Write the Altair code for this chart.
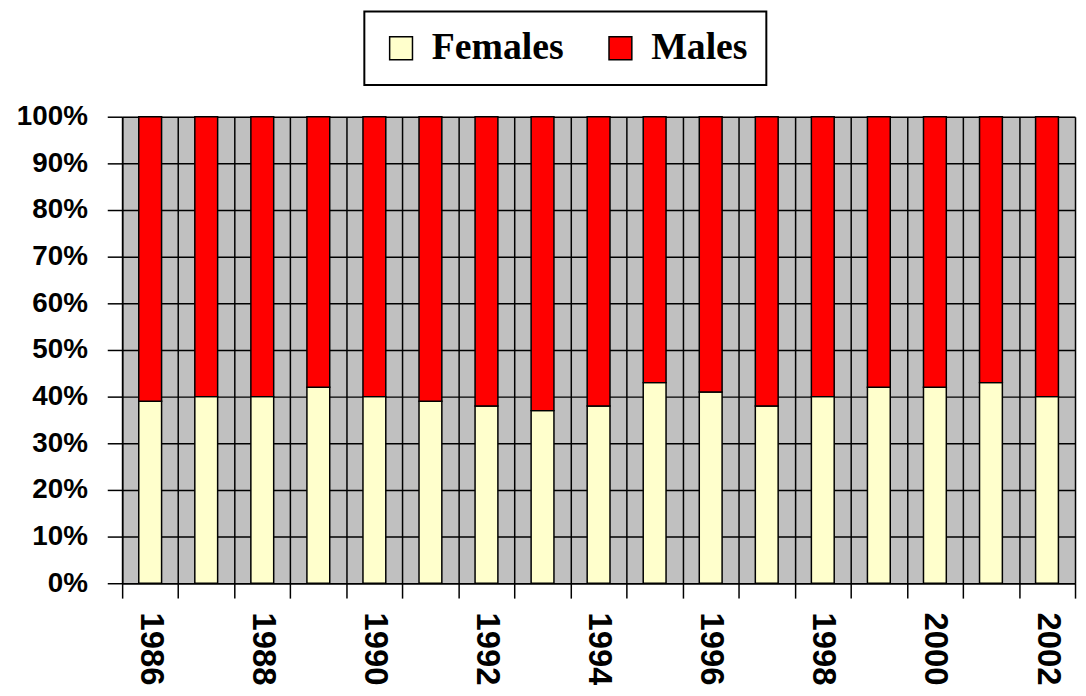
import altair as alt
import pandas as pd

years = ["1986", "1987", "1988", "1989", "1990", "1991", "1992", "1993", "1994",
         "1995", "1996", "1997", "1998", "1999", "2000", "2001", "2002"]
females = [39, 40, 40, 42, 40, 39, 38, 37, 38, 43, 41, 38, 40, 42, 42, 43, 40]
males = [61, 60, 60, 58, 60, 61, 62, 63, 62, 57, 59, 62, 60, 58, 58, 57, 60]
series = ["Females", "Males"]
colors = ["#FFFFCC", "#FF0000"]
y_ticks = [0, 0.1, 0.2, 0.3, 0.4, 0.5, 0.6, 0.7, 0.8, 0.9, 1.0]

rows = []
for i, yr in enumerate(years):
    rows.append({"year": yr, "sex": "Females", "value": females[i], "ord": 0})
    rows.append({"year": yr, "sex": "Males", "value": males[i], "ord": 1})
df = pd.DataFrame(rows)

chart = alt.Chart(df).mark_bar(size=23, stroke="black", strokeWidth=1.5).encode(
    x=alt.X(
        "year:O", sort=years,
        scale=alt.Scale(paddingInner=0, paddingOuter=0),
        axis=alt.Axis(
            title=None, tickBand="extent", grid=True, gridColor="black", gridWidth=1.5,
            tickSize=15, tickColor="black", tickWidth=1.5,
            domainColor="black", domainWidth=1.5,
            labelAngle=90, labelAlign="left", labelBaseline="middle",
            labelFont="Liberation Sans", labelFontWeight="bold", labelFontSize=33,
            labelColor="black", labelPadding=14, labelOverlap=False,
            labelExpr="toNumber(datum.value) % 2 == 0 ? datum.label : ''",
        ),
    ),
    y=alt.Y(
        "value:Q", stack="normalize",
        scale=alt.Scale(domain=[0, 1]),
        axis=alt.Axis(
            title=None, values=y_ticks, format=".0%", grid=True,
            gridColor="black", gridWidth=1.5,
            tickSize=15, tickColor="black", tickWidth=1.5,
            domainColor="black", domainWidth=1.5,
            labelFont="Liberation Sans", labelFontWeight="bold", labelFontSize=28,
            labelColor="black", labelPadding=20, labelOverlap=False,
        ),
    ),
    color=alt.Color(
        "sex:N",
        scale=alt.Scale(domain=series, range=colors),
        legend=alt.Legend(
            title=None, orient="none", legendX=244, legendY=-106,
            direction="horizontal", strokeColor="black",
            fillColor="white", padding=18,
            symbolType="square", symbolSize=529, symbolStrokeColor="black",
            symbolStrokeWidth=1.5, symbolOpacity=1,
            labelFont="Liberation Serif", labelFontWeight="bold", labelFontSize=38,
            labelColor="black", labelOffset=12, columnPadding=38,
        ),
    ),
    order=alt.Order("ord:Q"),
).properties(
    width=960, height=470,
    autosize=alt.AutoSizeParams(type="none"),
    padding={"left": 115, "top": 107, "right": 3, "bottom": 100},
).configure_view(
    fill="#C0C0C0", stroke="transparent", strokeWidth=0
).configure_legend(
    strokeWidth=2
)

chart.save("out.html", embed_options={"renderer": "svg", "actions": False})
